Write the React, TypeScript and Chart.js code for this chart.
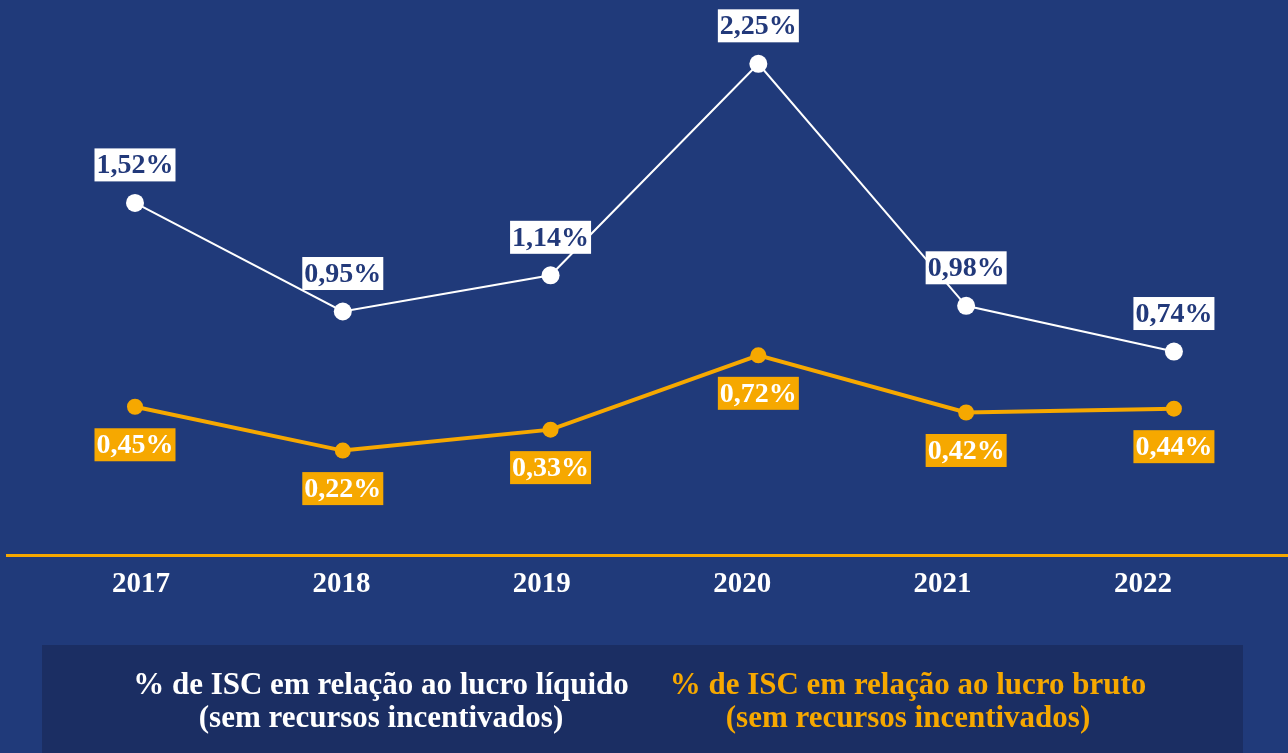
import { useEffect, useRef } from 'react';
import { Chart, registerables } from 'chart.js';

Chart.register(...registerables);

// ---- data ----
const years = ['2017', '2018', '2019', '2020', '2021', '2022'];
const liquido = [1.52, 0.95, 1.14, 2.25, 0.98, 0.74];
const bruto = [0.45, 0.22, 0.33, 0.72, 0.42, 0.44];
const legendLiquido = ['% de ISC em relação ao lucro líquido', '(sem recursos incentivados)'];
const legendBruto = ['% de ISC em relação ao lucro bruto', '(sem recursos incentivados)'];

// ---- style ----
const BG = '#203a7a';
const LEGEND_BG = '#1b2e63';
const ORANGE = '#f6a800';
const WHITE = '#ffffff';
const LABEL_TEXT = '#22397a';
const SERIF = '"Liberation Serif", "Times New Roman", serif';

const fmt = (v: number) => v.toFixed(2).replace('.', ',') + '%';

export default function App() {
  const ref = useRef<HTMLCanvasElement | null>(null);

  useEffect(() => {
    if (!ref.current) return;

    const bgPlugin = {
      id: 'bg',
      beforeDraw(chart: any) {
        const { ctx, width, height } = chart;
        ctx.save();
        ctx.fillStyle = BG;
        ctx.fillRect(0, 0, width, height);
        ctx.restore();
      },
    };

    const labelsPlugin = {
      id: 'valueLabels',
      afterDatasetsDraw(chart: any) {
        const ctx = chart.ctx;
        ctx.save();
        ctx.font = `bold 28px ${SERIF}`;
        ctx.textAlign = 'center';
        ctx.textBaseline = 'middle';
        chart.data.datasets.forEach((ds: any, di: number) => {
          const meta = chart.getDatasetMeta(di);
          const above = di === 0;
          meta.data.forEach((pt: any, i: number) => {
            const text = fmt(ds.data[i].y);
            const w = ctx.measureText(text).width + 4;
            const h = 33;
            const cx = pt.x;
            const cy = pt.y + (above ? -38 : 38);
            ctx.fillStyle = above ? WHITE : ORANGE;
            ctx.fillRect(cx - w / 2, cy - h / 2, w, h);
            ctx.fillStyle = above ? LABEL_TEXT : WHITE;
            ctx.fillText(text, cx, cy + 1);
          });
        });
        ctx.restore();
      },
    };

    const legendPlugin = {
      id: 'customLegend',
      afterDraw(chart: any) {
        const ctx = chart.ctx;
        ctx.save();
        ctx.fillStyle = LEGEND_BG;
        ctx.fillRect(42, 645, 1201, 108);
        ctx.font = `bold 31px ${SERIF}`;
        ctx.textAlign = 'center';
        ctx.textBaseline = 'middle';
        ctx.fillStyle = WHITE;
        ctx.fillText(legendLiquido[0], 381, 686);
        ctx.fillText(legendLiquido[1], 381, 719);
        ctx.fillStyle = ORANGE;
        ctx.fillText(legendBruto[0], 908, 686);
        ctx.fillText(legendBruto[1], 908, 719);
        ctx.restore();
      },
    };

    const chart = new Chart(ref.current, {
      type: 'line',
      data: {
        datasets: [
          {
            label: legendLiquido.join(' '),
            data: liquido.map((v, i) => ({ x: i, y: v })),
            borderColor: WHITE,
            borderWidth: 2,
            pointRadius: 9,
            pointBackgroundColor: WHITE,
            pointBorderWidth: 0,
            tension: 0,
            xAxisID: 'x',
          },
          {
            label: legendBruto.join(' '),
            data: bruto.map((v, i) => ({ x: i, y: v })),
            borderColor: ORANGE,
            borderWidth: 4,
            pointRadius: 8,
            pointBackgroundColor: ORANGE,
            pointBorderWidth: 0,
            tension: 0,
            xAxisID: 'x',
          },
        ],
      },
      options: {
        responsive: false,
        animation: false,
        layout: { autoPadding: false, padding: { left: 7, right: 0, top: 0, bottom: 0 } },
        plugins: {
          legend: { display: false },
          tooltip: { enabled: false },
        },
        scales: {
          x: {
            type: 'linear',
            display: false,
            min: -0.616,
            max: 5.549,
          },
          x2: {
            type: 'linear',
            position: 'bottom',
            min: -0.669,
            max: 5.724,
            grid: { display: false, drawTicks: false },
            border: { display: true, color: ORANGE, width: 3 },
            afterFit: (scale: any) => {
              scale.height = 198;
            },
            ticks: {
              stepSize: 1,
              includeBounds: false,
              autoSkip: false,
              maxRotation: 0,
              padding: 12,
              color: WHITE,
              font: { family: SERIF, size: 29, weight: 'bold' },
              callback: (v: any) => years[Number(v)] ?? '',
            },
          },
          y: {
            display: false,
            min: -0.328,
            max: 2.585,
          },
        },
      },
      plugins: [bgPlugin, labelsPlugin, legendPlugin],
    } as any);

    return () => chart.destroy();
  }, []);

  return (
    <canvas
      ref={ref}
      width={1288}
      height={753}
      style={{ position: 'absolute', left: 0, top: 0, display: 'block' }}
    />
  );
}
